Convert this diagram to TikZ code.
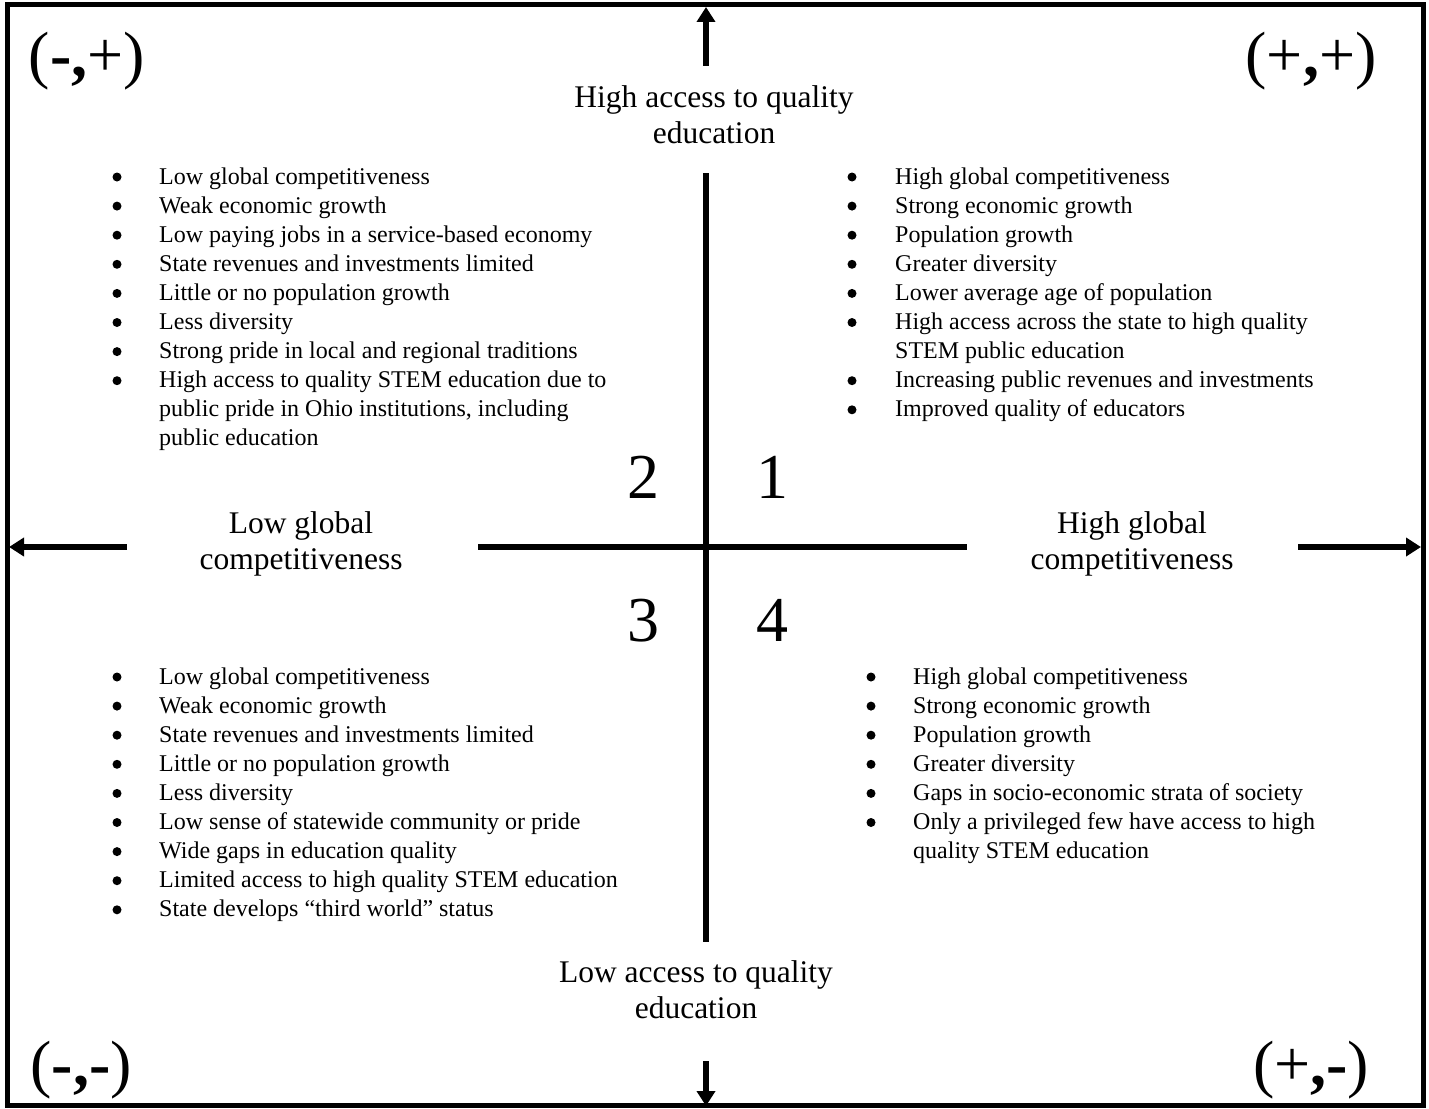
\documentclass[tikz,border=0pt]{standalone}
\usepackage{fontspec}
\setmainfont{Liberation Serif}
\usetikzlibrary{arrows.meta}
\newcommand{\bodyfont}{\fontsize{24}{29.1}\selectfont}
\newcommand{\axisfont}{\fontsize{31.5}{36}\selectfont}
\newcommand{\bigfont}{\fontsize{64}{70}\selectfont}
\tikzset{
  axisline/.style={line width=6pt},
  axisarrow/.style={line width=6pt,-{Triangle[length=15pt,width=18pt]}},
  frame/.style={line width=5pt},
  lbl/.style={inner sep=0pt,anchor=base},
  lst/.style={inner sep=0pt,anchor=base west},
  bulletdot/.style={fill=black},
}
\begin{document}
\begin{tikzpicture}[x=1pt,y=-1pt]
\useasboundingbox (0,0) rectangle (1429,1108);
\fill[white] (0,0) rectangle (1429,1108);
\draw[frame] (7,4.5) rectangle (1423,1105);

% arrow end coordinates
\coordinate (topS) at (706,66);
\coordinate (topT) at (706,7);
\coordinate (botS) at (706,1061);
\coordinate (botT) at (706,1106);
\coordinate (leftS) at (127,547);
\coordinate (leftT) at (9,547);
\coordinate (rightS) at (1298,547);
\coordinate (rightT) at (1421,547);
\coordinate (vTop) at (706,173);
\coordinate (vBot) at (706,942);
\coordinate (hL) at (478,547);
\coordinate (hR) at (967,547);

\draw[axisarrow] (topS) -- (topT);
\draw[axisarrow] (botS) -- (botT);
\draw[axisarrow] (leftS) -- (leftT);
\draw[axisarrow] (rightS) -- (rightT);
\draw[axisline] (vTop) -- (vBot);
\draw[axisline] (hL) -- (hR);

% corner labels
\node[lbl] (cTL) at (87,77) {\bigfont (\textbf{-,}+)};
\node[lbl] (cTR) at (1311,77) {\bigfont (+\textbf{,}+)};
\node[lbl] (cBL) at (81,1085) {\bigfont (\textbf{-,-})};
\node[lbl] (cBR) at (1311,1085) {\bigfont (+\textbf{,-})};

% axis labels
\node[lbl] (top) at (714,107) {\axisfont\begin{tabular}[t]{@{}c@{}}High access to quality\\education\end{tabular}};
\node[lbl] (bot) at (696,982) {\axisfont\begin{tabular}[t]{@{}c@{}}Low access to quality\\education\end{tabular}};
\node[lbl] (left) at (301,533) {\axisfont\begin{tabular}[t]{@{}c@{}}Low global\\competitiveness\end{tabular}};
\node[lbl] (right) at (1132,533) {\axisfont\begin{tabular}[t]{@{}c@{}}High global\\competitiveness\end{tabular}};

% quadrant numbers
\node[lbl] (q2) at (643,498) {\bigfont 2};
\node[lbl] (q1) at (772,498) {\bigfont 1};
\node[lbl] (q3) at (643,641) {\bigfont 3};
\node[lbl] (q4) at (772,641) {\bigfont 4};

% bullets
\foreach \i in {0,...,7} \fill[bulletdot] (117,{177+\i*29.1}) circle (4.5);
\foreach \i in {0,1,2,3,4,5,7,8} \fill[bulletdot] (852,{177+\i*29.1}) circle (4.5);
\foreach \i in {0,...,8} \fill[bulletdot] (117,{677+\i*29.1}) circle (4.5);
\foreach \i in {0,...,5} \fill[bulletdot] (871,{677+\i*29.1}) circle (4.5);

% lists
\node[lst] (l2) at (159,184) {\bodyfont\begin{tabular}[t]{@{}l@{}}
Low global competitiveness\\
Weak economic growth\\
Low paying jobs in a service-based economy\\
State revenues and investments limited\\
Little or no population growth\\
Less diversity\\
Strong pride in local and regional traditions\\
High access to quality STEM education due to\\
public pride in Ohio institutions, including\\
public education
\end{tabular}};

\node[lst] (l1) at (895,184) {\bodyfont\begin{tabular}[t]{@{}l@{}}
High global competitiveness\\
Strong economic growth\\
Population growth\\
Greater diversity\\
Lower average age of population\\
High access across the state to high quality\\
STEM public education\\
Increasing public revenues and investments\\
Improved quality of educators
\end{tabular}};

\node[lst] (l3) at (159,684) {\bodyfont\begin{tabular}[t]{@{}l@{}}
Low global competitiveness\\
Weak economic growth\\
State revenues and investments limited\\
Little or no population growth\\
Less diversity\\
Low sense of statewide community or pride\\
Wide gaps in education quality\\
Limited access to high quality STEM education\\
State develops “third world” status
\end{tabular}};

\node[lst] (l4) at (913,684) {\bodyfont\begin{tabular}[t]{@{}l@{}}
High global competitiveness\\
Strong economic growth\\
Population growth\\
Greater diversity\\
Gaps in socio-economic strata of society\\
Only a privileged few have access to high\\
quality STEM education
\end{tabular}};
\end{tikzpicture}
\end{document}
